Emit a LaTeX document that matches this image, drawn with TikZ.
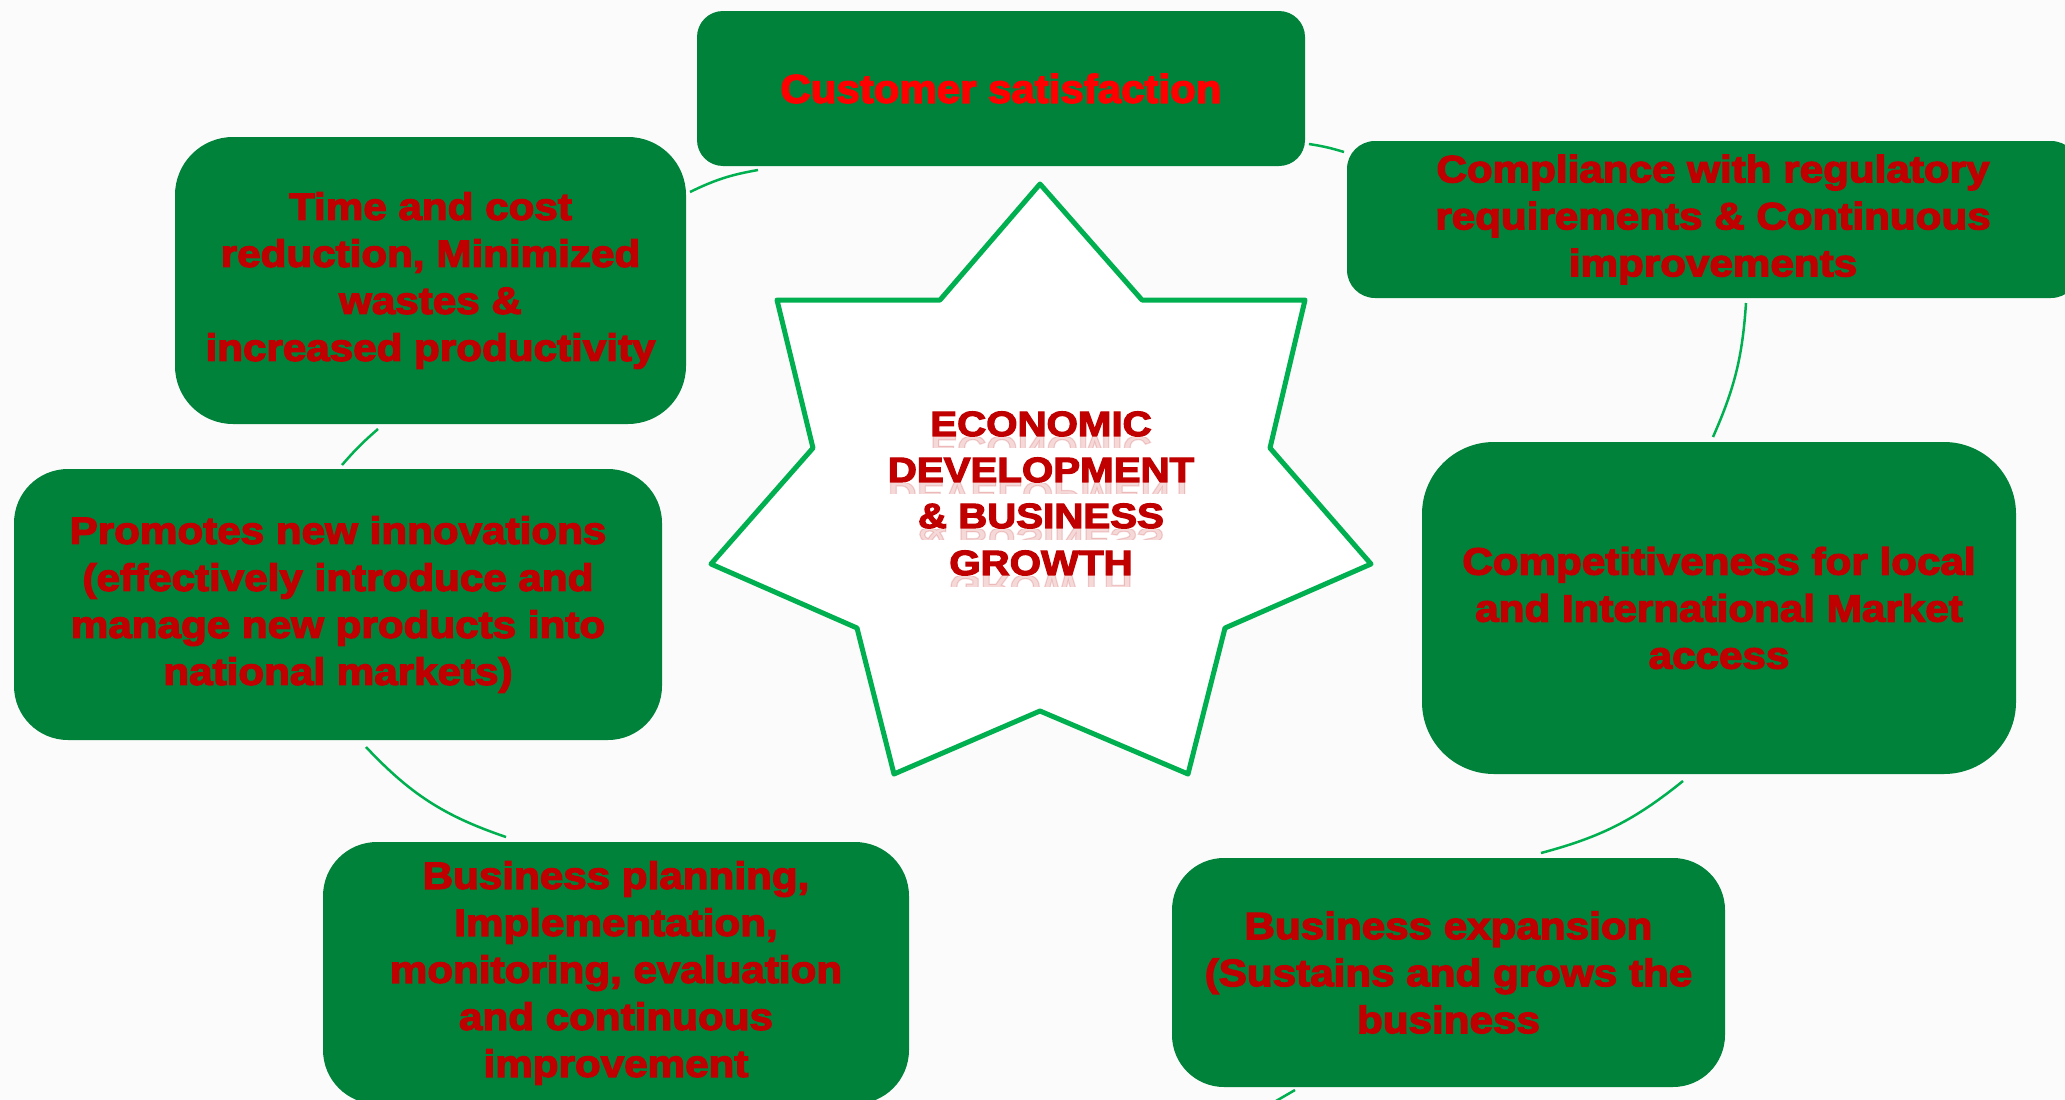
\documentclass[tikz,border=0pt]{standalone}
\usepackage{fontspec}
\setmainfont{Liberation Sans}
\newfontfamily\cardfont{Liberation Sans Bold}[FakeStretch=1.11,FakeBold=3.5]
\newfontfamily\custfont{Liberation Sans Bold}[FakeStretch=1.05,FakeBold=3.5]
\newfontfamily\corefont{Liberation Sans Bold}[FakeStretch=1.15,FakeBold=3.5]

\definecolor{pagebg}{RGB}{251,251,251}
\definecolor{cardgreen}{RGB}{0,130,59}
\definecolor{linkgreen}{RGB}{0,176,80}
\definecolor{darkred}{RGB}{192,0,0}
\definecolor{brightred}{RGB}{255,0,0}

\tikzset{
  card/.style={fill=cardgreen, draw=none, align=center, text=darkred,
    inner sep=0pt, font={\cardfont\fontsize{38}{47}\selectfont}},
  link/.style={draw=linkgreen, line width=2.5pt},
  starline/.style={draw=linkgreen, line width=5pt, fill=white, line join=round},
  coretext/.style={text=darkred, anchor=base, inner sep=0pt,
    font={\corefont\fontsize{35}{40}\selectfont}},
}

% one line of the centre title with its faded mirror image below the baseline
\newcommand{\coreline}[3]{%
  \node[coretext] (#1) at (1041,#2) {#3};
  \begin{scope}
    \clip (880,#2+1) rectangle (1200,#2+11);
    \begin{scope}[shift={(1041,#2)}, yscale=-1]
      \node[coretext, transform shape, opacity=0.15] at (0,0) {#3};
    \end{scope}
  \end{scope}}

\begin{document}
\begin{tikzpicture}[x=1pt,y=-1pt]
\useasboundingbox (0,0) rectangle (2065,1100);
\clip (0,0) rectangle (2065,1100);
\fill[pagebg] (0,0) rectangle (2065,1100);

% seven-pointed star in the middle
\coordinate (p1) at (1040,184);
\coordinate (q1) at (1142,300);
\coordinate (p2) at (1305,300);
\coordinate (q2) at (1270,448);
\coordinate (p3) at (1371,564);
\coordinate (q3) at (1225,628);
\coordinate (p4) at (1188,774);
\coordinate (q4) at (1040,711);
\coordinate (p5) at (894,774);
\coordinate (q5) at (857,628);
\coordinate (p6) at (711,564);
\coordinate (q6) at (813,448);
\coordinate (p7) at (777,300);
\coordinate (q7) at (940,300);
\draw[starline] (p1) -- (q1) -- (p2) -- (q2) -- (p3) -- (q3) -- (p4) -- (q4)
  -- (p5) -- (q5) -- (p6) -- (q6) -- (p7) -- (q7) -- cycle;

\coreline{t1}{436}{ECONOMIC}
\coreline{t2}{482}{DEVELOPMENT}
\coreline{t3}{528}{\& BUSINESS}
\coreline{t4}{575}{GROWTH}

% boxes around the star
\node[card, minimum width=608pt, minimum height=155pt, rounded corners=26pt,
  text=brightred, font={\custfont\fontsize{40}{47}\selectfont}]
  (cust) at (1001,88.5) {Customer satisfaction};
\node[card, minimum width=732pt, minimum height=157pt, rounded corners=28pt]
  (comp) at (1713,219.5) {Compliance with regulatory\\requirements \& Continuous\\improvements};
\node[card, minimum width=511pt, minimum height=287pt, rounded corners=58pt]
  (time) at (430.5,280.5) {Time and cost\\reduction, Minimized\\wastes \&\\increased productivity};
\node[card, minimum width=648pt, minimum height=271pt, rounded corners=54pt]
  (prom) at (338,604.5) {Promotes new innovations\\(effectively introduce and\\manage new products into\\national markets)};
\node[card, minimum width=594pt, minimum height=332pt, rounded corners=72pt]
  (compet) at (1719,608) {Competitiveness for local\\and International Market\\access};
\node[card, minimum width=586pt, minimum height=262pt, rounded corners=54pt]
  (plan) at (616,973) {Business planning,\\Implementation,\\monitoring, evaluation\\and continuous\\improvement};
\node[card, minimum width=553pt, minimum height=229pt, rounded corners=52pt]
  (expa) at (1448.5,972.5) {Business expansion\\(Sustains and grows the\\business};

% arc pieces of the cycle between the boxes
\coordinate (a1) at (690,192);   \coordinate (a2) at (758,170);
\coordinate (b1) at (1309,144);  \coordinate (b2) at (1344,152);
\coordinate (c1) at (1746,303);  \coordinate (c2) at (1713,437);
\coordinate (d1) at (1683,781);  \coordinate (d2) at (1541,853);
\coordinate (e1) at (1295,1090); \coordinate (e2) at (1276,1101);
\coordinate (f1) at (506,837);   \coordinate (f2) at (366,747);
\coordinate (g1) at (342,465);   \coordinate (g2) at (378,429);
\draw[link] (a1) to[bend left=8] (a2);
\draw[link] (b1) to[bend left=4] (b2);
\draw[link] (c1) to[bend left=10] (c2);
\draw[link] (d1) to[bend left=12] (d2);
\draw[link] (e1) -- (e2);
\draw[link] (f1) to[bend left=14] (f2);
\draw[link] (g1) to[bend left=4] (g2);
\end{tikzpicture}
\end{document}
